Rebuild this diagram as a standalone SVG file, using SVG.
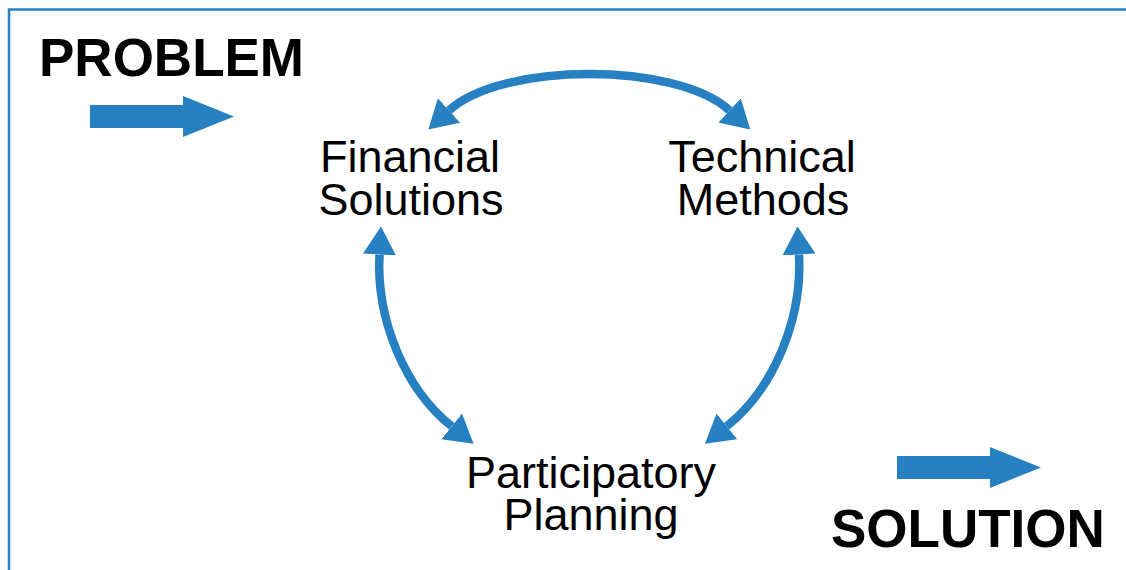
<svg xmlns="http://www.w3.org/2000/svg" width="1126" height="570" viewBox="0 0 1126 570">
  <style>
    .frame { fill: none; stroke: #2a80c2; stroke-width: 2.5; }
    .big { font-family: "Liberation Sans", Arial, sans-serif; font-weight: bold; font-size: 53px; fill: #000; }
    .label { font-family: "Liberation Sans", Arial, sans-serif; font-size: 45px; fill: #000; text-anchor: middle; }
    .link { fill: none; stroke: #2680c2; stroke-width: 8.5; marker-start: url(#head); marker-end: url(#head); }
    .flow { fill: #2680c2; }
  </style>
  <defs>
    <marker id="head" markerUnits="userSpaceOnUse" markerWidth="30" markerHeight="34" refX="0" refY="16.5" orient="auto-start-reverse" viewBox="0 0 30 33">
      <path d="M0,0 L28,16.5 L0,33 Z" fill="#2680c2"/>
    </marker>
    <polygon id="flowArrow" points="0,-11.5 93,-11.5 93,-20.5 144,0 93,20.5 93,11.5 0,11.5"/>
  </defs>

  <!-- open frame: top and left edges only -->
  <path class="frame" d="M9,1200 V9.5 H1200"/>

  <g id="problem">
    <text class="big" x="39" y="76">PROBLEM</text>
    <use href="#flowArrow" class="flow" x="90" y="116.5"/>
  </g>

  <g id="solution">
    <use href="#flowArrow" class="flow" x="897" y="467.5"/>
    <text class="big" x="831" y="547">SOLUTION</text>
  </g>

  <g id="financial">
    <text class="label" x="410" y="172">Financial</text>
    <text class="label" x="411" y="215">Solutions</text>
  </g>

  <g id="technical">
    <text class="label" x="762" y="172">Technical</text>
    <text class="label" x="763" y="215">Methods</text>
  </g>

  <g id="participatory">
    <text class="label" x="591" y="488">Participatory</text>
    <text class="label" x="591" y="530">Planning</text>
  </g>

  <g id="connectors">
    <path class="link" d="M449,110.5 C502,61.9 676.6,61.9 729.6,110.5"/>
    <path class="link" d="M379.5,254.5 C376,319.5 405,389 451.7,426.3"/>
    <path class="link" d="M799,254.5 C802.5,319.5 773.5,389 726.8,426.3"/>
  </g>
</svg>
